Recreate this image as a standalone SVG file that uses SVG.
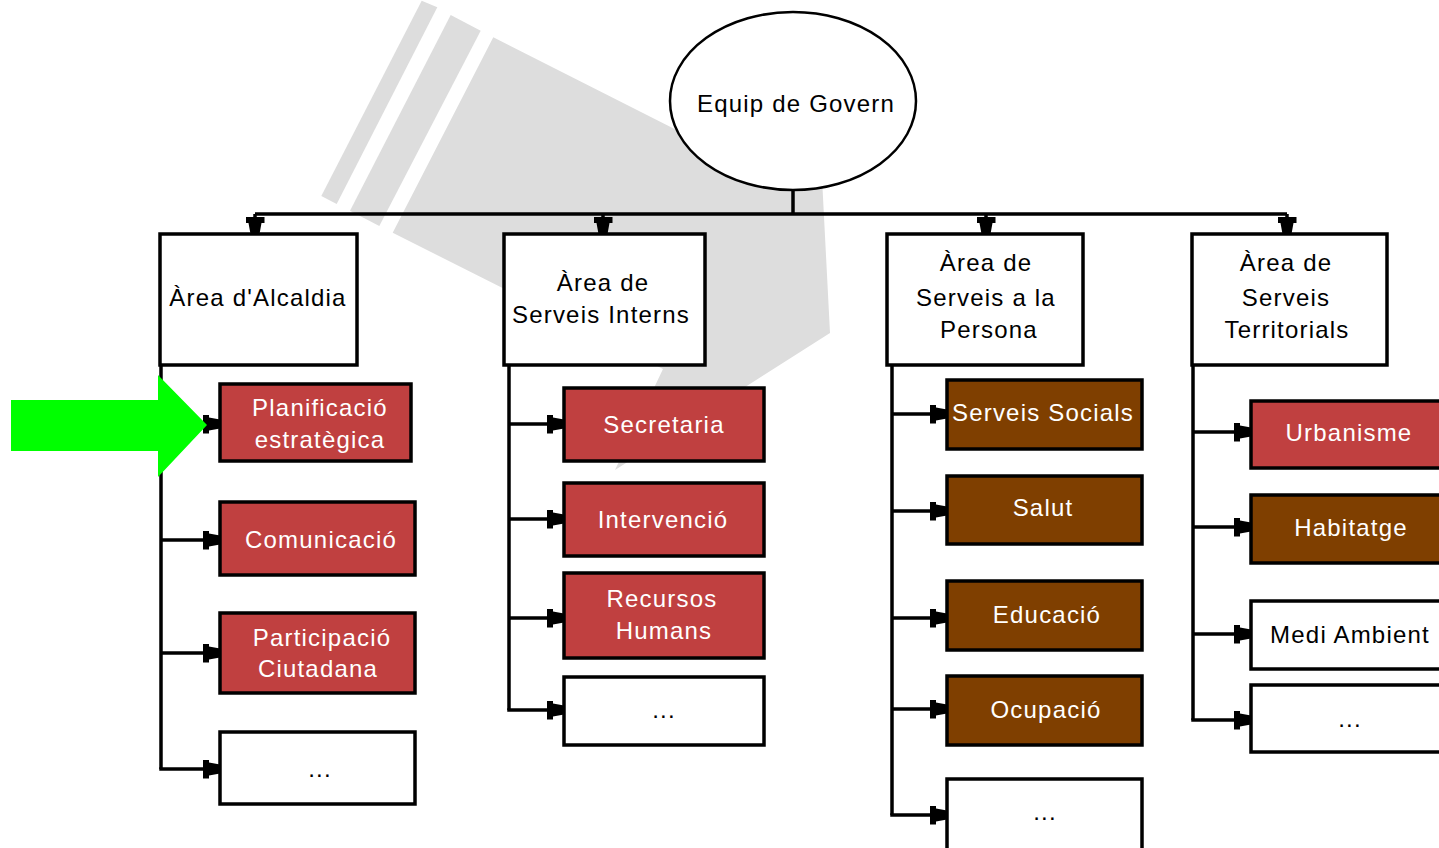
<svg xmlns="http://www.w3.org/2000/svg" width="1439" height="848" viewBox="0 0 1439 848">
<style>
  .box { stroke: #000; stroke-width: 3.5; }
  .white { fill: #ffffff; }
  .red { fill: #c04040; }
  .brown { fill: #7f3f00; }
  .conn { fill: none; stroke: #000; stroke-width: 3.5; }
  .t { font-family: "Liberation Sans", Arial, sans-serif; font-size: 24px; letter-spacing: 1.2px; text-anchor: middle; }
  .tk { fill: #000; }
  .tw { fill: #fff; }
</style>
<defs>
  <marker id="arr" viewBox="0 0 17 19" refX="17" refY="9.5" markerWidth="17" markerHeight="19" markerUnits="userSpaceOnUse" orient="auto">
    <path d="M0,0 L6,0 L6,3 L17,5 L17,14 L6,16 L6,19 L0,19 Z" fill="#000"/>
  </marker>
</defs>
<rect x="0" y="0" width="1439" height="848" fill="#ffffff"/>

<g id="spotlight" fill="#dddddd">
  <polygon points="421.7,0.7 437.3,7.3 336.7,204 321.3,196"/>
  <polygon points="450.7,15 480.7,30.7 379.3,226 350,210.7"/>
  <polygon points="493.3,37.3 680,131.8 822,178 830,333 615,470 663,369 392.7,232.7"/>
</g>

<g id="connectors">
  <path class="conn" d="M793,190 V214"/>
  <path class="conn" d="M255,214 H1287"/>
  <path class="conn" d="M255,214 V234" marker-end="url(#arr)"/>
  <path class="conn" d="M603,214 V234" marker-end="url(#arr)"/>
  <path class="conn" d="M986,214 V234" marker-end="url(#arr)"/>
  <path class="conn" d="M1287,214 V234" marker-end="url(#arr)"/>

  <path class="conn" d="M161,366 V769"/>
  <path class="conn" d="M161,424 H220" marker-end="url(#arr)"/>
  <path class="conn" d="M161,540 H220" marker-end="url(#arr)"/>
  <path class="conn" d="M161,653 H220" marker-end="url(#arr)"/>
  <path class="conn" d="M159.25,769 H220" marker-end="url(#arr)"/>

  <path class="conn" d="M509,366 V710"/>
  <path class="conn" d="M509,424 H564" marker-end="url(#arr)"/>
  <path class="conn" d="M509,519 H564" marker-end="url(#arr)"/>
  <path class="conn" d="M509,618 H564" marker-end="url(#arr)"/>
  <path class="conn" d="M507.25,710 H564" marker-end="url(#arr)"/>

  <path class="conn" d="M892,366 V815"/>
  <path class="conn" d="M892,414 H947" marker-end="url(#arr)"/>
  <path class="conn" d="M892,511 H947" marker-end="url(#arr)"/>
  <path class="conn" d="M892,618 H947" marker-end="url(#arr)"/>
  <path class="conn" d="M892,709 H947" marker-end="url(#arr)"/>
  <path class="conn" d="M890.25,815 H947" marker-end="url(#arr)"/>

  <path class="conn" d="M1193,366 V720"/>
  <path class="conn" d="M1193,432 H1251" marker-end="url(#arr)"/>
  <path class="conn" d="M1193,527 H1251" marker-end="url(#arr)"/>
  <path class="conn" d="M1193,634 H1251" marker-end="url(#arr)"/>
  <path class="conn" d="M1191.25,720 H1251" marker-end="url(#arr)"/>
</g>

<g id="pointer">
  <polygon points="11,400 158,400 158,375 207,425 158,477 158,451 11,451" fill="#00ff00"/>
</g>

<g id="equip">
  <ellipse cx="793" cy="101" rx="123" ry="89" fill="#ffffff" stroke="#000" stroke-width="2.5"/>
  <text class="t tk" x="796" y="112">Equip de Govern</text>
</g>

<g id="area-alcaldia">
  <rect class="box white" x="160" y="234" width="197" height="131"/>
  <text class="t tk" x="258" y="306">Àrea d'Alcaldia</text>
</g>
<g id="area-interns">
  <rect class="box white" x="504" y="234" width="201" height="131"/>
  <text class="t tk" x="603" y="291">Àrea de</text>
  <text class="t tk" x="601" y="323">Serveis Interns</text>
</g>
<g id="area-persona">
  <rect class="box white" x="887" y="234" width="196" height="131"/>
  <text class="t tk" x="986" y="271">Àrea de</text>
  <text class="t tk" x="986" y="306">Serveis a la</text>
  <text class="t tk" x="989" y="338">Persona</text>
</g>
<g id="area-territorials">
  <rect class="box white" x="1192" y="234" width="195" height="131"/>
  <text class="t tk" x="1286" y="271">Àrea de</text>
  <text class="t tk" x="1286" y="306">Serveis</text>
  <text class="t tk" x="1287" y="338">Territorials</text>
</g>

<g id="planificacio">
  <rect class="box red" x="220" y="384" width="191" height="77"/>
  <text class="t tw" x="320" y="416">Planificació</text>
  <text class="t tw" x="320" y="448">estratègica</text>
</g>
<g id="comunicacio">
  <rect class="box red" x="220" y="502" width="195" height="73"/>
  <text class="t tw" x="321" y="548">Comunicació</text>
</g>
<g id="participacio">
  <rect class="box red" x="220" y="613" width="195" height="80"/>
  <text class="t tw" x="322" y="646">Participació</text>
  <text class="t tw" x="318" y="677">Ciutadana</text>
</g>
<g id="alcaldia-more">
  <rect class="box white" x="220" y="732" width="195" height="72"/>
  <text class="t tk" x="320" y="777">...</text>
</g>

<g id="secretaria">
  <rect class="box red" x="564" y="388" width="200" height="73"/>
  <text class="t tw" x="664" y="433">Secretaria</text>
</g>
<g id="intervencio">
  <rect class="box red" x="564" y="483" width="200" height="73"/>
  <text class="t tw" x="663" y="528">Intervenció</text>
</g>
<g id="recursos-humans">
  <rect class="box red" x="564" y="573" width="200" height="85"/>
  <text class="t tw" x="662" y="607">Recursos</text>
  <text class="t tw" x="664" y="639">Humans</text>
</g>
<g id="interns-more">
  <rect class="box white" x="564" y="677" width="200" height="68"/>
  <text class="t tk" x="664" y="718">...</text>
</g>

<g id="serveis-socials">
  <rect class="box brown" x="947" y="380" width="195" height="69"/>
  <text class="t tw" x="1043" y="421">Serveis Socials</text>
</g>
<g id="salut">
  <rect class="box brown" x="947" y="476" width="195" height="68"/>
  <text class="t tw" x="1043" y="516">Salut</text>
</g>
<g id="educacio">
  <rect class="box brown" x="947" y="581" width="195" height="69"/>
  <text class="t tw" x="1047" y="623">Educació</text>
</g>
<g id="ocupacio">
  <rect class="box brown" x="947" y="676" width="195" height="69"/>
  <text class="t tw" x="1046" y="718">Ocupació</text>
</g>
<g id="persona-more">
  <rect class="box white" x="947" y="779" width="195" height="80"/>
  <text class="t tk" x="1045" y="820">...</text>
</g>

<g id="urbanisme">
  <rect class="box red" x="1251" y="401" width="200" height="67"/>
  <text class="t tw" x="1349" y="441">Urbanisme</text>
</g>
<g id="habitatge">
  <rect class="box brown" x="1251" y="495" width="200" height="68"/>
  <text class="t tw" x="1351" y="536">Habitatge</text>
</g>
<g id="medi-ambient">
  <rect class="box white" x="1251" y="601" width="200" height="68"/>
  <text class="t tk" x="1350" y="643">Medi Ambient</text>
</g>
<g id="territorials-more">
  <rect class="box white" x="1251" y="685" width="200" height="67"/>
  <text class="t tk" x="1350" y="727">...</text>
</g>
</svg>
